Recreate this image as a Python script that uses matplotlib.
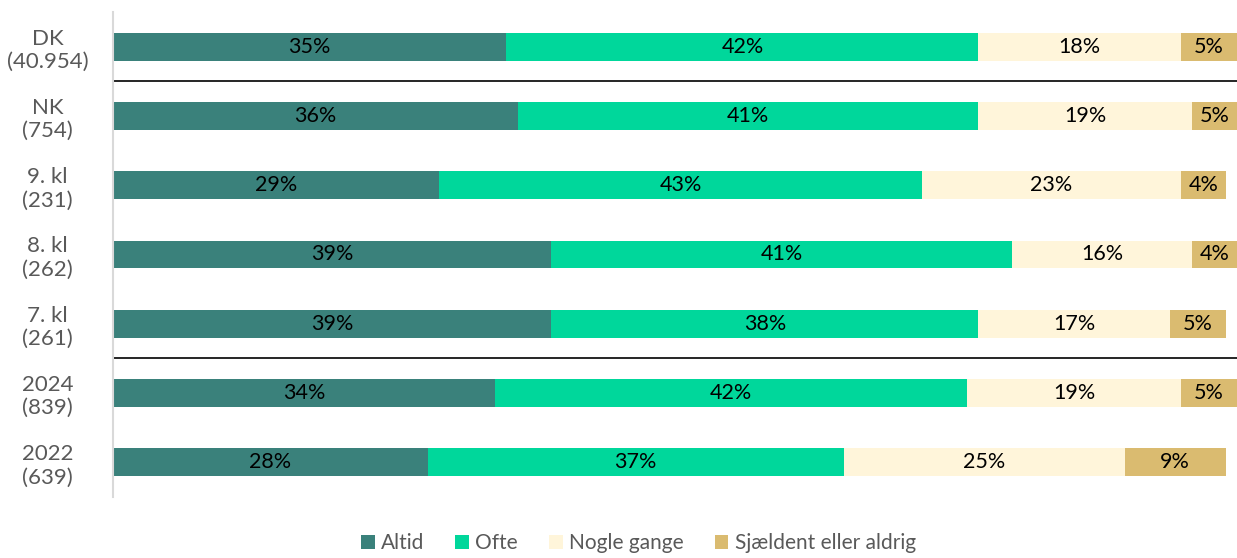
import matplotlib.pyplot as plt
import numpy as np

plt.rcParams['font.family'] = ['Lato', 'DejaVu Sans']

groups = ['DK\n(40.954)', 'NK\n(754)', '9. kl\n(231)', '8. kl\n(262)',
          '7. kl\n(261)', '2024\n(839)', '2022\n(639)']
altid = [35, 36, 29, 39, 39, 34, 28]
ofte = [42, 41, 43, 41, 38, 42, 37]
nogle = [18, 19, 23, 16, 17, 19, 25]
sjaeldent = [5, 5, 4, 4, 5, 5, 9]

series = [('Altid', altid, '#3a817b'),
          ('Ofte', ofte, '#00d79b'),
          ('Nogle gange', nogle, '#fff5da'),
          ('Sjældent eller aldrig', sjaeldent, '#dabb70')]

fig = plt.figure(figsize=(12.37, 5.58), dpi=100)
ax = fig.add_axes([113 / 1237, 1 - 497 / 558, 1 - 113 / 1237, 485 / 558])

y = np.arange(len(groups))
left = np.zeros(len(groups))
for name, vals, col in series:
    bars = ax.barh(y, vals, left=left, height=0.4, color=col, label=name)
    ax.bar_label(bars, labels=[f'{v}%' for v in vals], label_type='center',
                 fontsize=15.5, color='black')
    left += np.array(vals)

# skillelinjer mellem DK, klassetrin og årgange
for yy in (0.5, 4.5):
    ax.axhline(yy, color='black', lw=1.2)

ax.set_xlim(0, 100)
ax.set_ylim(len(groups) - 0.5, -0.5)
ax.set_yticks(y)
ax.set_yticklabels(groups, fontsize=16, color='#595959', linespacing=1.2)
ax.tick_params(axis='y', length=0, pad=47)
ax.set_xticks([])
for s in ['top', 'right', 'bottom']:
    ax.spines[s].set_visible(False)
ax.spines['left'].set_color('#d9d9d9')
ax.spines['left'].set_linewidth(1.5)
for t in ax.get_yticklabels():
    t.set_horizontalalignment('center')

fig.legend(loc='lower center', bbox_to_anchor=(0.516, -0.025), ncol=4,
           frameon=False, fontsize=15, handlelength=0.65, handleheight=0.65,
           handletextpad=0.3, columnspacing=1.5, labelcolor='#595959')

fig.savefig('out.png', dpi=100)
